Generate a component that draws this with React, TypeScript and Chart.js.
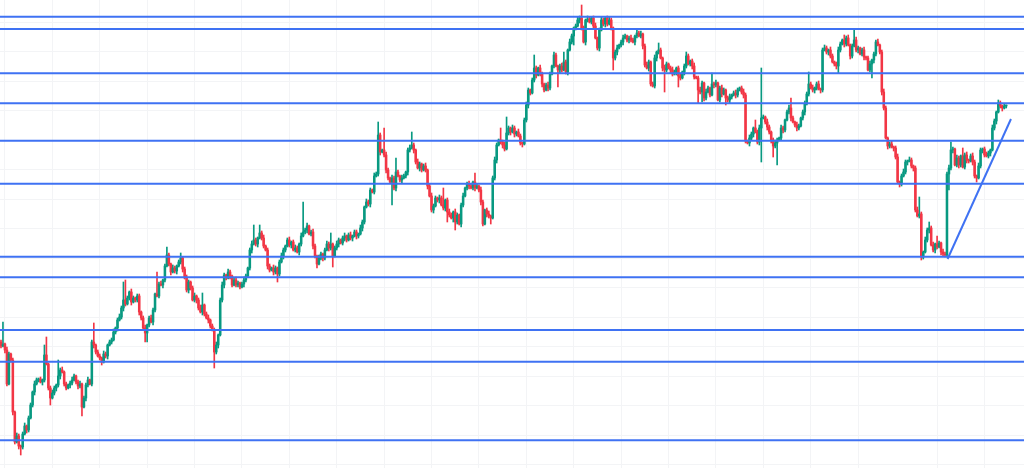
import React, { useEffect, useRef } from "react";
import { Chart, registerables } from "chart.js";

Chart.register(...registerables);

// Price of the first candle's open
const firstOpen = 658;

// Close of each hourly candle (oldest -> newest)
const closes: number[] = [
  654, 656, 650, 616, 646, 640, 588, 558, 564, 554,
  553, 566, 574, 570, 582, 595, 608, 616, 620, 621,
  618, 620, 645, 636, 612, 602, 607, 612, 615, 624,
  630, 628, 616, 612, 615, 617, 620, 624, 618, 614,
  616, 593, 602, 615, 620, 616, 658, 655, 648, 644,
  642, 638, 646, 644, 655, 658, 660, 668, 672, 680,
  683, 692, 700, 696, 702, 708, 698, 702, 700, 704,
  688, 682, 672, 667, 675, 682, 678, 690, 706, 704,
  716, 715, 720, 734, 745, 736, 728, 732, 729, 734,
  738, 742, 731, 722, 710, 718, 712, 700, 704, 700,
  692, 688, 695, 686, 682, 680, 674, 670, 648, 655,
  665, 700, 715, 725, 722, 728, 724, 715, 720, 715,
  717, 713, 716, 720, 724, 732, 750, 756, 760, 756,
  762, 767, 762, 754, 750, 734, 730, 732, 728, 732,
  726, 738, 744, 750, 754, 760, 755, 758, 750, 752,
  748, 756, 764, 768, 770, 774, 766, 768, 754, 744,
  736, 742, 746, 742, 750, 756, 752, 756, 744, 752,
  756, 760, 757, 762, 764, 760, 765, 762, 764, 768,
  764, 766, 772, 778, 793, 798, 796, 810, 808, 824,
  826, 865, 848, 850, 845, 830, 822, 818, 822, 812,
  828, 824, 820, 822, 824, 828, 850, 852, 855, 850,
  838, 832, 836, 830, 834, 830, 814, 804, 790, 794,
  802, 800, 802, 795, 792, 800, 788, 785, 782, 788,
  778, 785, 776, 795, 804, 812, 816, 814, 812, 818,
  812, 814, 810, 798, 776, 790, 786, 784, 782, 822,
  840, 855, 860, 858, 855, 851, 867, 872, 868, 872,
  866, 868, 864, 857, 856, 880, 895, 910, 907, 920,
  932, 925, 932, 926, 916, 910, 915, 912, 926, 934,
  945, 934, 930, 934, 930, 938, 928, 950, 958, 964,
  972, 974, 980, 982, 972, 958, 980, 981, 978, 982,
  974, 962, 952, 970, 980, 976, 982, 976, 980, 972,
  942, 948, 952, 955, 958, 962, 964, 960, 962, 960,
  958, 964, 967, 964, 966, 954, 935, 932, 938, 916,
  914, 942, 948, 950, 942, 932, 930, 936, 932, 930,
  926, 928, 932, 924, 922, 928, 934, 944, 936, 939,
  934, 923, 922, 910, 908, 917, 902, 908, 912, 905,
  916, 915, 917, 900, 912, 906, 910, 902, 900, 903,
  905, 907, 905, 910, 912, 908, 905, 859, 857, 862,
  866, 872, 868, 858, 872, 882, 883, 878, 873, 868,
  860, 854, 857, 860, 862, 872, 870, 880, 888, 892,
  882, 878, 875, 872, 874, 882, 888, 896, 906, 916,
  912, 910, 912, 916, 911, 910, 950, 952, 948, 950,
  944, 938, 936, 934, 950, 956, 960, 956, 962, 955,
  944, 954, 960, 950, 952, 946, 950, 943, 942, 930,
  936, 940, 946, 958, 955, 948, 908, 892, 862, 854,
  856, 853, 852, 843, 818, 816, 824, 828, 838, 839,
  840, 834, 832, 790, 784, 786, 743, 748, 760, 770,
  772, 755, 750, 756, 753, 757, 748, 746, 745, 826,
  832, 850, 851, 835, 842, 835, 844, 833, 845, 840,
  839, 844, 838, 824, 822, 834, 850, 851, 845, 844,
  847, 850, 872, 879, 888, 897, 894, 892, 894, 894,
];

// Upper wick above the body, per candle
const wickUp: number[] = [
  2, 22, 1, 3, 2, 1, 2, 1, 3, 2,
  1, 2, 3, 1, 2, 2, 1, 3, 2, 1,
  2, 1, 10, 18, 1, 2, 3, 2, 1, 16,
  2, 3, 1, 2, 1, 2, 3, 2, 1, 2,
  3, 1, 2, 2, 3, 1, 2, 19, 1, 2,
  2, 1, 3, 2, 1, 2, 2, 3, 1, 2,
  3, 2, 18, 20, 2, 1, 3, 2, 1, 2,
  2, 1, 2, 3, 1, 2, 3, 2, 1, 22,
  2, 3, 1, 2, 8, 2, 1, 3, 2, 1,
  2, 5, 1, 2, 3, 2, 1, 2, 3, 1,
  2, 3, 12, 1, 2, 3, 1, 2, 2, 3,
  1, 2, 3, 2, 1, 3, 2, 1, 2, 3,
  2, 1, 2, 3, 2, 1, 2, 3, 15, 2,
  1, 8, 2, 3, 1, 2, 2, 1, 3, 2,
  1, 2, 3, 2, 1, 2, 3, 1, 2, 3,
  2, 1, 3, 30, 2, 3, 1, 2, 3, 2,
  1, 3, 2, 1, 2, 3, 2, 11, 1, 2,
  3, 2, 1, 2, 3, 1, 2, 3, 1, 2,
  2, 1, 3, 2, 1, 3, 2, 2, 1, 3,
  2, 13, 2, 1, 22, 3, 2, 1, 3, 2,
  14, 2, 1, 3, 2, 1, 2, 3, 13, 2,
  1, 3, 2, 1, 2, 3, 1, 2, 3, 2,
  2, 1, 3, 2, 17, 1, 2, 3, 2, 1,
  3, 2, 1, 2, 3, 1, 2, 3, 2, 1,
  9, 2, 1, 3, 2, 1, 2, 3, 1, 2,
  3, 2, 1, 12, 2, 3, 16, 2, 1, 3,
  2, 1, 3, 2, 1, 2, 3, 2, 1, 2,
  13, 2, 1, 3, 2, 1, 2, 3, 2, 1,
  3, 2, 1, 2, 3, 10, 2, 1, 3, 2,
  1, 2, 3, 2, 13, 2, 1, 3, 2, 1,
  2, 3, 1, 2, 3, 2, 1, 2, 3, 2,
  1, 2, 3, 1, 2, 3, 2, 1, 2, 3,
  2, 1, 4, 2, 3, 1, 2, 3, 2, 1,
  2, 3, 1, 7, 2, 1, 3, 2, 1, 2,
  3, 2, 1, 2, 3, 1, 2, 4, 2, 1,
  2, 3, 1, 2, 3, 2, 1, 3, 2, 1,
  11, 2, 3, 1, 2, 3, 2, 1, 2, 3,
  1, 2, 3, 2, 1, 2, 3, 2, 1, 3,
  2, 1, 8, 2, 3, 50, 2, 1, 3, 2,
  1, 2, 3, 2, 1, 3, 2, 1, 2, 3,
  10, 2, 1, 3, 2, 1, 2, 3, 2, 12,
  2, 3, 1, 2, 3, 1, 2, 3, 2, 1,
  3, 2, 1, 2, 3, 2, 1, 5, 2, 3,
  1, 2, 10, 3, 2, 1, 2, 3, 1, 2,
  3, 1, 2, 2, 3, 1, 2, 3, 2, 1,
  2, 3, 1, 2, 3, 1, 2, 3, 2, 1,
  3, 2, 1, 2, 3, 17, 2, 1, 3, 2,
  6, 2, 3, 1, 8, 2, 1, 3, 2, 2,
  3, 8, 2, 1, 3, 2, 1, 8, 2, 3,
  1, 2, 3, 2, 1, 3, 2, 1, 2, 3,
  2, 1, 3, 2, 1, 3, 2, 1, 2, 1,
];

// Lower wick below the body, per candle
const wickDown: number[] = [
  2, 1, 3, 2, 1, 2, 3, 2, 1, 3,
  8, 2, 1, 3, 2, 1, 2, 3, 1, 2,
  1, 3, 2, 1, 2, 7, 1, 2, 3, 2,
  3, 1, 2, 2, 1, 3, 2, 1, 2, 3,
  2, 9, 1, 3, 2, 1, 2, 3, 2, 1,
  2, 3, 1, 2, 3, 1, 2, 1, 2, 3,
  1, 2, 3, 2, 1, 2, 3, 1, 2, 2,
  3, 2, 1, 9, 9, 2, 1, 3, 2, 1,
  2, 1, 3, 2, 1, 2, 3, 1, 2, 3,
  1, 2, 3, 1, 2, 3, 2, 1, 2, 3,
  2, 1, 3, 2, 1, 3, 2, 1, 16, 2,
  3, 1, 2, 3, 2, 1, 3, 2, 1, 2,
  2, 2, 1, 3, 2, 1, 2, 3, 1, 2,
  3, 1, 2, 2, 1, 3, 2, 1, 3, 2,
  8, 2, 1, 3, 2, 1, 2, 3, 1, 2,
  1, 3, 2, 1, 2, 3, 1, 2, 3, 2,
  4, 1, 2, 3, 2, 1, 3, 2, 11, 1,
  2, 3, 1, 2, 3, 2, 1, 2, 3, 1,
  3, 2, 1, 3, 2, 1, 2, 3, 1, 2,
  1, 2, 3, 1, 2, 3, 2, 1, 23, 2,
  3, 1, 2, 3, 1, 2, 3, 2, 1, 3,
  2, 1, 3, 2, 1, 2, 3, 1, 2, 3,
  1, 2, 3, 1, 2, 3, 10, 2, 1, 4,
  8, 2, 1, 3, 2, 1, 2, 3, 1, 2,
  3, 1, 2, 3, 2, 1, 3, 2, 6, 1,
  2, 3, 1, 2, 3, 2, 1, 2, 3, 1,
  3, 2, 1, 2, 3, 1, 2, 3, 2, 1,
  2, 3, 1, 2, 3, 2, 1, 3, 2, 1,
  2, 1, 17, 3, 2, 1, 2, 3, 1, 2,
  9, 2, 1, 3, 2, 1, 3, 2, 1, 2,
  3, 1, 2, 3, 1, 2, 3, 2, 1, 2,
  12, 2, 3, 1, 2, 3, 1, 2, 3, 2,
  1, 3, 2, 1, 2, 3, 2, 1, 3, 2,
  1, 2, 3, 2, 1, 3, 22, 2, 1, 3,
  2, 1, 3, 11, 2, 1, 3, 2, 1, 2,
  3, 2, 1, 13, 2, 10, 3, 2, 1, 2,
  1, 3, 2, 1, 2, 3, 1, 7, 2, 3,
  2, 1, 3, 2, 1, 2, 3, 2, 1, 3,
  2, 3, 1, 2, 3, 34, 1, 2, 3, 2,
  3, 11, 2, 22, 1, 2, 3, 2, 1, 2,
  3, 1, 2, 3, 2, 1, 2, 3, 1, 2,
  1, 2, 3, 2, 1, 3, 2, 1, 2, 3,
  2, 1, 2, 3, 7, 2, 1, 3, 2, 1,
  3, 2, 1, 2, 3, 1, 2, 3, 2, 1,
  2, 14, 3, 2, 1, 2, 3, 2, 1, 3,
  2, 1, 3, 2, 1, 3, 2, 1, 2, 3,
  1, 2, 3, 2, 1, 2, 3, 2, 1, 2,
  3, 1, 2, 3, 2, 1, 3, 2, 2, 2,
  16, 2, 3, 1, 2, 3, 2, 1, 2, 3,
  2, 1, 3, 2, 4, 1, 2, 3, 2, 1,
  2, 3, 1, 2, 3, 1, 2, 3, 1, 2,
];

// Horizontal support / resistance levels
const levels: number[] = [983.3, 971, 926.7, 896.7, 859.3, 816.3, 743.3, 722.7, 670, 638.3, 559.7];

// Rising trend line: [candle index, price]
const trendX: number[] = [479.3, 511.4];
const trendY: number[] = [741, 881];

// Vertical grid (session starts, candle index) and horizontal grid (price)
const sessionTicks: number[] = [2, 26, 50, 74, 98, 122, 146, 170, 194, 218, 242, 266, 290, 314, 338, 362, 386, 410, 434, 474, 498];
const priceTicks: number[] = [978, 948.5, 919, 889.5, 860, 830.5, 801, 771.5, 742, 712.5, 683, 653.5, 624, 594.5, 565, 535.5];

const UP = "#089981";
const DOWN = "#f23645";
const LEVEL = "#3f72f3";
const GRID = "#f3f4f6";

export default function App() {
  const ref = useRef<HTMLCanvasElement | null>(null);

  useEffect(() => {
    document.body.style.margin = "0";
    const canvas = ref.current;
    if (!canvas) return;

    const opens = closes.map((c, i) => (i === 0 ? firstOpen : closes[i - 1]));
    const highs = closes.map((c, i) => Math.max(opens[i], c) + wickUp[i]);
    const lows = closes.map((c, i) => Math.min(opens[i], c) - wickDown[i]);
    const colors = closes.map((c, i) => (c >= opens[i] ? UP : DOWN));

    const datasets: any[] = [];
    levels.forEach((v) => {
      datasets.push({
        type: "line",
        data: [
          { x: -5, y: v },
          { x: 530, y: v },
        ],
        borderColor: LEVEL,
        borderWidth: 2,
        pointRadius: 0,
        order: 0,
      });
    });
    datasets.push({
      type: "line",
      data: trendX.map((x, i) => ({ x, y: trendY[i] })),
      borderColor: LEVEL,
      borderWidth: 2,
      pointRadius: 0,
      order: 0,
    });
    datasets.push({
      type: "bar",
      data: closes.map((c, i) => ({ x: i, y: [opens[i], c] })),
      backgroundColor: colors,
      borderWidth: 0,
      barThickness: 1.9,
      minBarLength: 1,
      grouped: false,
      order: 1,
    });
    datasets.push({
      type: "bar",
      data: closes.map((c, i) => ({ x: i, y: [lows[i], highs[i]] })),
      backgroundColor: colors,
      borderWidth: 0,
      barThickness: 1,
      grouped: false,
      order: 2,
    });

    const chart = new Chart(canvas, {
      type: "bar",
      data: { datasets },
      options: {
        animation: false,
        responsive: true,
        maintainAspectRatio: false,
        layout: { padding: 0 },
        plugins: { legend: { display: false }, tooltip: { enabled: false } },
        scales: {
          x: {
            type: "linear",
            offset: false,
            min: -0.5,
            max: 518,
            ticks: { display: false },
            grid: { color: GRID, drawTicks: false, lineWidth: 1, offset: false },
            border: { display: false },
            afterBuildTicks: (scale: any) => {
              scale.ticks = sessionTicks.map((value) => ({ value }));
            },
            afterFit: (scale: any) => {
              scale.height = 0;
            },
          },
          y: {
            type: "linear",
            min: 532,
            max: 1000,
            ticks: { display: false },
            grid: { color: GRID, drawTicks: false, lineWidth: 1 },
            border: { display: false },
            afterBuildTicks: (scale: any) => {
              scale.ticks = priceTicks.map((value) => ({ value }));
            },
            afterFit: (scale: any) => {
              scale.width = 0;
            },
          },
        },
      },
    } as any);

    return () => chart.destroy();
  }, []);

  return (
    <div style={{ width: 1024, height: 468, position: "relative", background: "#ffffff" }}>
      <canvas ref={ref} />
    </div>
  );
}
